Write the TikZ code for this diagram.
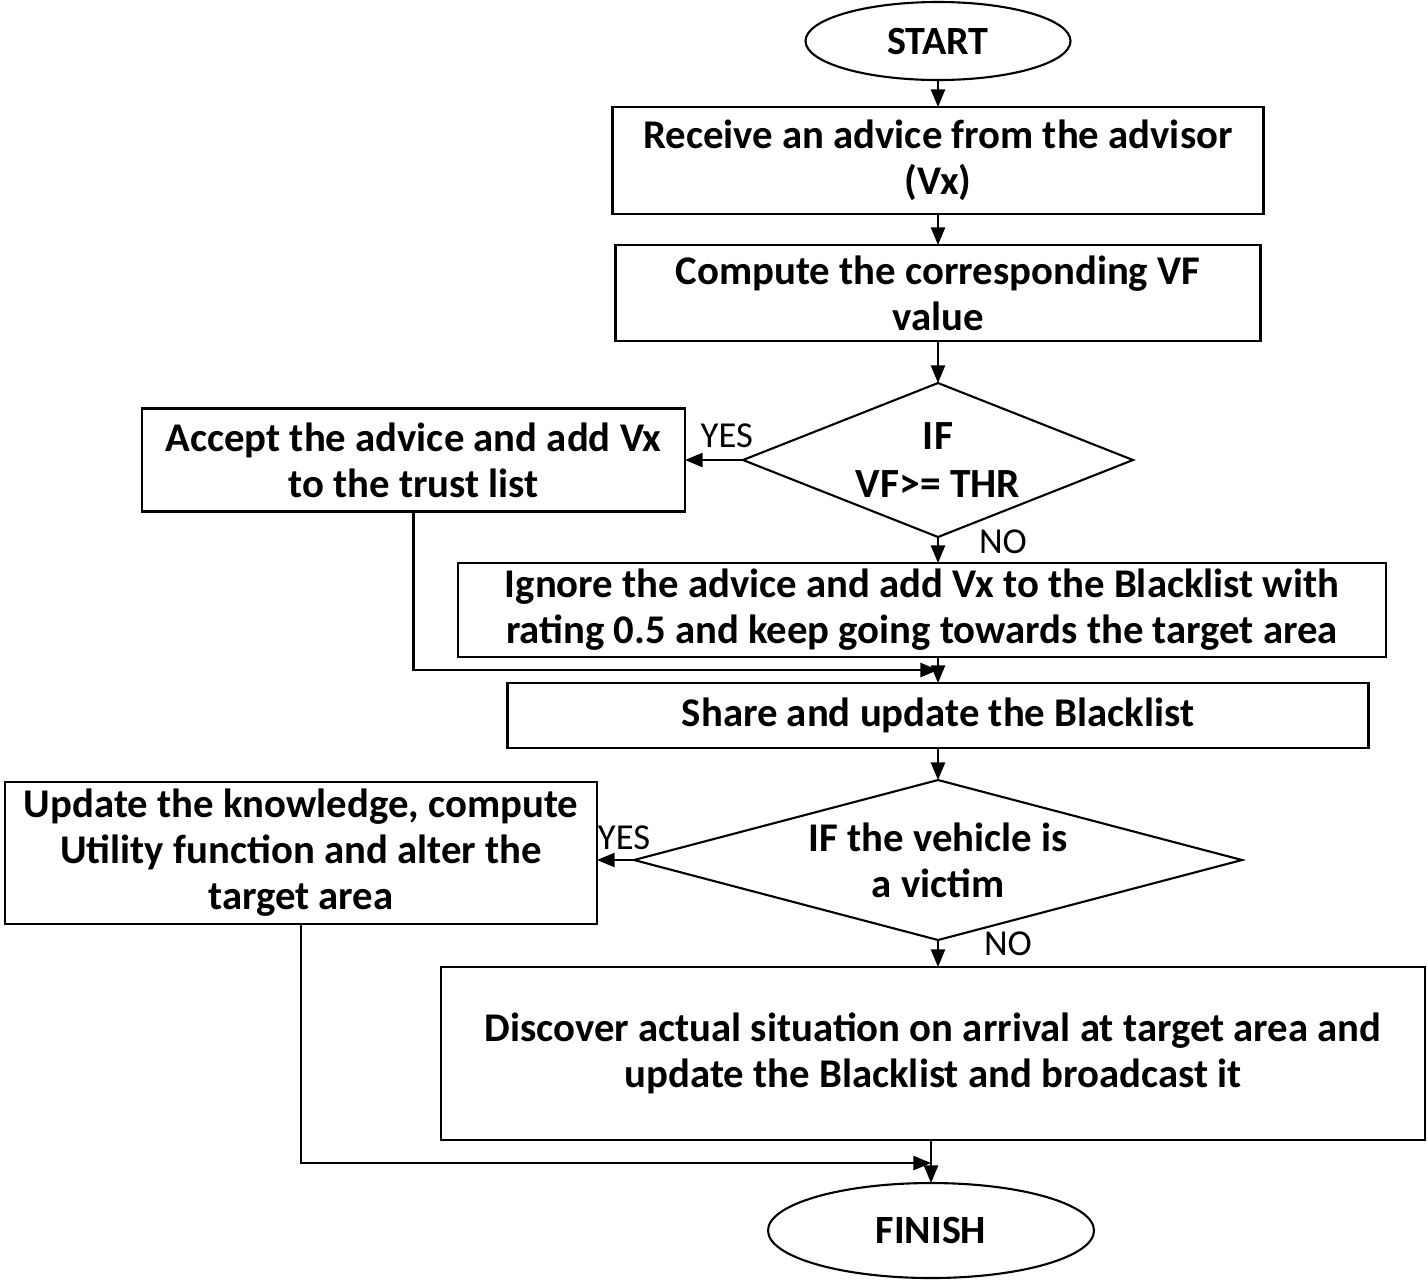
\documentclass[tikz,border=0pt]{standalone}
\usepackage{fontspec}
\setmainfont{Carlito}
\usepackage{tikz}
\usetikzlibrary{positioning}
\usetikzlibrary{shapes}
\usetikzlibrary{arrows.meta}
\tikzstyle{txt} = [align=center,inner sep=0pt,outer sep=0pt,font=\fontsize{11.6}{13.1}\selectfont\bfseries]
\tikzstyle{box} = [txt,rectangle,draw=black,fill=white]
\tikzstyle{term} = [ellipse,draw=black,inner sep=0pt,outer sep=0pt,font=\fontsize{11.4}{13}\selectfont\bfseries]
\tikzstyle{cond} = [diamond,draw=black,inner sep=0pt,outer sep=0pt]
\tikzstyle{ans} = [inner sep=0pt,font=\fontsize{10.4}{12}\selectfont]
\tikzset{>={Triangle[length=5pt,width=4pt]}}

\begin{document}
\begin{tikzpicture}[line width=0.6pt]
  \useasboundingbox (0,0) rectangle (14.27,-12.84);

  \node [term,minimum width=2.65cm,minimum height=0.78cm] (start) at (9.38,-0.41) {START};
  \node [box,minimum width=6.51cm,minimum height=1.07cm,below=0.27cm of start] (recv) {Receive an advice from the advisor\\(Vx)};
  \node [box,minimum width=6.45cm,minimum height=0.96cm,below=0.31cm of recv] (comp) {Compute the corresponding VF\\value};

  \node [cond,minimum width=3.9cm,minimum height=1.54cm,below=0.42cm of comp,
         label={[txt,font=\fontsize{11.8}{13.4}\selectfont\bfseries]center:IF\\VF>= THR}] (if1) {};
  \node [box,minimum width=5.43cm,minimum height=1.03cm,left=0.58cm of if1] (accept) {Accept the advice and add Vx\\to the trust list};
  \node [box,minimum width=9.28cm,minimum height=0.94cm,below=0.26cm of if1,xshift=-0.16cm] (ignore) {Ignore the advice and add Vx to the Blacklist with\\rating 0.5 and keep going towards the target area};
  \node [box,minimum width=8.61cm,minimum height=0.65cm,below=0.26cm of ignore,xshift=0.16cm] (share) {Share and update the Blacklist};

  \node [cond,minimum width=6.08cm,minimum height=1.6cm,below=0.32cm of share,
         label={[txt]center:IF the vehicle is\\a victim}] (if2) {};
  \node [box,minimum width=5.92cm,minimum height=1.42cm,left=0.37cm of if2,yshift=0.07cm] (update) {Update the knowledge, compute\\Utility function and alter the\\target area};
  \node [box,minimum width=9.84cm,minimum height=1.73cm,below=0.27cm of if2,xshift=-0.05cm] (disc) {Discover actual situation on arrival at target area and\\update the Blacklist and broadcast it};
  \node [term,minimum width=3.26cm,minimum height=0.95cm,below=0.43cm of disc,xshift=-0.02cm] (finish) {FINISH};

  \coordinate (j1) at ([yshift=-0.13cm]ignore.south -| share.north);
  \coordinate (j2) at ([yshift=-0.23cm]disc.south -| finish.north);

  \draw [->] (start) -- (recv);
  \draw [->] (recv) -- (comp);
  \draw [->] (comp) -- (if1);
  \draw [->] (if1) -- (accept) node [ans,pos=0.28,yshift=0.24cm] {YES};
  \draw [->] (if1.south) -- (if1.south |- ignore.north) node [ans,pos=0.2,right=0.4cm] {NO};
  \draw [->] (ignore.south -| share.north) -- (share.north);
  \draw [->] (accept.south) |- (j1);

  \draw [->] (share) -- (if2);
  \draw [->] (if2.west) -- (if2.west -| update.east) node [ans,pos=0.27,yshift=0.22cm] {YES};
  \draw [->] (if2.south) -- (if2.south |- disc.north) node [ans,pos=0.15,right=0.45cm] {NO};
  \draw [->] (disc.south -| finish.north) -- (finish.north);
  \draw [->] (update.south) |- (j2);

\end{tikzpicture}
\end{document}
